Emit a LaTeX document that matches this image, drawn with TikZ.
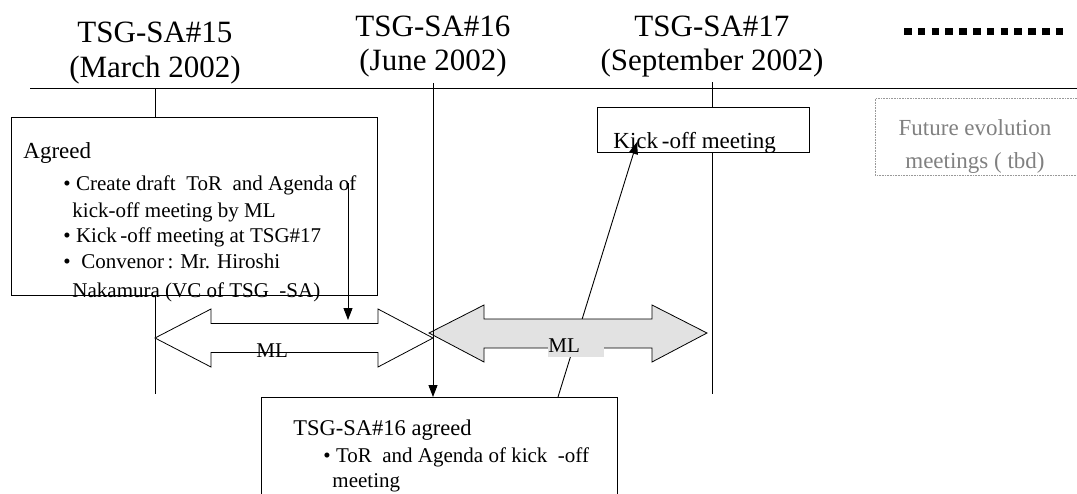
\documentclass[tikz,border=0pt]{standalone}
\usepackage{fontspec}
\setmainfont{Liberation Serif}
\usetikzlibrary{arrows.meta,positioning}

\definecolor{mlgray}{RGB}{226,226,226}
\definecolor{tbdgray}{RGB}{128,128,128}

\begin{document}
\begin{tikzpicture}[x=1pt, y=-1pt, line width=0.9pt,
    title/.style={font=\fontsize{31}{36}\selectfont, anchor=base, inner sep=0},
    head/.style={font=\fontsize{23}{27}\selectfont, anchor=base west, inner sep=0},
    body/.style={font=\fontsize{21}{26}\selectfont, anchor=base west, inner sep=0},
    box/.style={draw, fill=white, inner sep=0, anchor=north west},
    link/.style={-{Triangle[length=12pt,width=9pt]}},
    mlarrow/.style={draw, line width=0.8pt, line join=miter}
  ]
    \useasboundingbox (0,0) rectangle (1077,493);

    % Time line and meetings
    \coordinate (tl-start) at (30,88);
    \coordinate (tl-end) at (1077,88);
    \draw (tl-start) -- (tl-end);
    \foreach \n/\x/\ya/\yb/\m in {15/155/42/77/March, 16/433/36/70/June, 17/712/36/70/September} {
        \node[title] (sa\n) at (\x,\ya) {TSG-SA\#\n};
        \node[title] (sa\n-date) at (\x,\yb) {(\m\ 2002)};
    }

    % More meetings to come
    \coordinate (more-a) at (904,31.5);
    \coordinate (more-b) at (1067,31.5);
    \draw[line width=7.5pt, dash pattern=on 7.5pt off 6.3pt] (more-a) -- (more-b);

    % Vertical lines below SA#15 and SA#17
    \coordinate (sa15-top) at (155,88);
    \coordinate (sa15-bot) at (155,394);
    \coordinate (sa17-top) at (712,82);
    \coordinate (sa17-bot) at (712,394);
    \draw (sa15-top) -- (sa15-bot);
    \draw (sa17-top) -- (sa17-bot);

    % Box: agreed at SA#15
    \node[box, minimum width=366pt, minimum height=178pt] (agreedbox) at (11,117) {};
    \node[head] (agreed) at (23,158) {Agreed};
    \foreach \i/\x/\y/\t in {1/63/190/{\textbullet\ Create draft\ \ ToR\ \ and Agenda of},
                             2/72/217/{kick-off meeting by ML},
                             3/63/242/{\textbullet\ Kick\,-off meeting at TSG\#17},
                             4/63/268/{\textbullet\ \ Convenor\,: Mr. Hiroshi},
                             5/72/297/{Nakamura (VC of TSG\ \ -SA)}} {
        \node[body] (agreed-\i) at (\x,\y) {\t};
    }

    % Box: kick-off meeting at SA#17
    \node[box, minimum width=212pt, minimum height=45pt] (kickbox) at (597,107) {};
    \node[head] (kick) at (613,148) {Kick\,-off meeting};

    % Box: future meetings
    \node[box, draw=tbdgray!80, densely dotted, line width=0.6pt,
          minimum width=215pt, minimum height=77pt] (tbdbox) at (875,98) {};
    \node[head, anchor=base, text=tbdgray] (tbd-1) at (975,135) {Future evolution};
    \node[head, anchor=base, text=tbdgray] (tbd-2) at (975,168) {meetings ( tbd)};

    % Box: agreed at SA#16
    \node[box, minimum width=356pt, minimum height=130pt] (sa16box) at (261,397) {};
    \node[head, font=\fontsize{22.5}{27}\selectfont] (sa16agreed) at (293,435) {TSG-SA\#16 agreed};
    \node[body] (sa16-1) at (323,462) {\textbullet\ ToR\ \ and Agenda of kick\ \ -off};
    \node[body] (sa16-2) at (332,487) {meeting};

    % Arrow up to the kick-off meeting
    \coordinate (kick-foot) at (558,397);
    \coordinate (kick-tip) at (637,142);
    \draw[link] (kick-foot) -- (kick-tip);

    % ML double arrows
    \draw[mlarrow, fill=white] (155,338) -- (211,309) -- (211,323.5) -- (378,323.5) -- (378,309)
        -- (433,338) -- (378,367) -- (378,352.5) -- (211,352.5) -- (211,367) -- cycle;
    \draw[mlarrow, fill=mlgray] (429,333) -- (484,305) -- (484,319) -- (652,319) -- (652,305)
        -- (707,333) -- (652,362) -- (652,348) -- (484,348) -- (484,362) -- cycle;
    \node[body] (ml1) at (256,357) {ML};
    \node[body, fill=mlgray, text width=56pt, align=left, text height=15pt, text depth=5pt] (ml2) at (548,352) {ML};

    % Arrows from the agreements
    \coordinate (tor-from) at (348,183);
    \coordinate (ml1-top) at (348,320);
    \draw[link] (tor-from) -- (ml1-top);
    \coordinate (sa16-top) at (433,83);
    \draw[link] (sa16-top) -- (sa16box.north -| sa16-top);
\end{tikzpicture}
\end{document}
